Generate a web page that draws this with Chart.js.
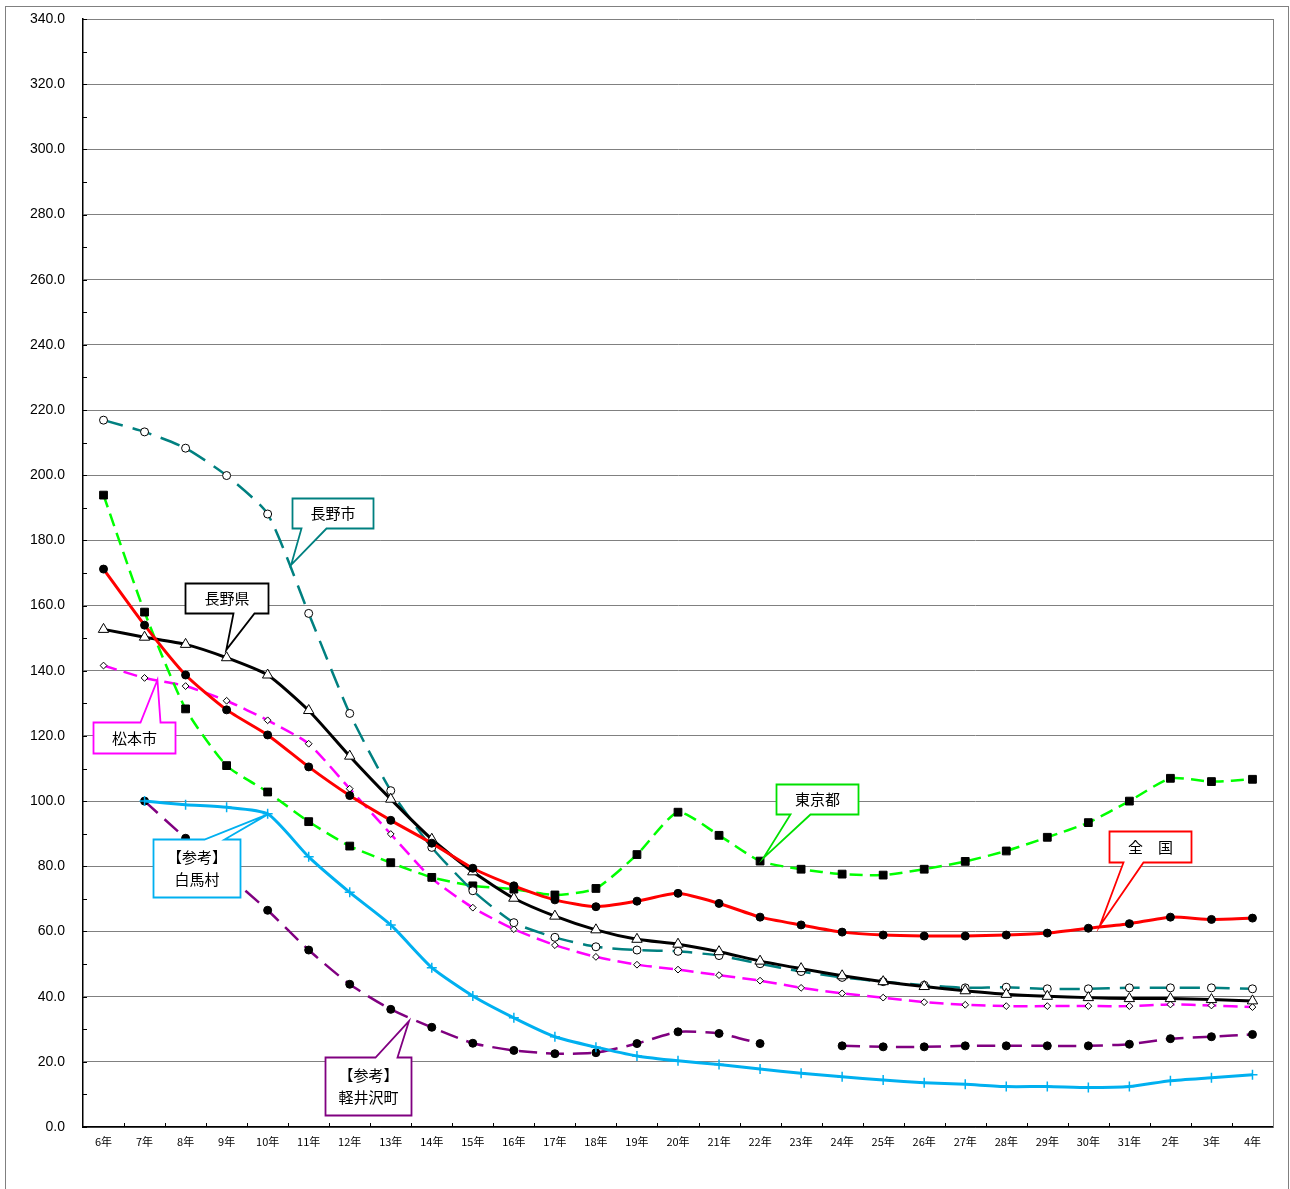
<!DOCTYPE html>
<html>
<head>
<meta charset="utf-8">
<script src="https://cdn.jsdelivr.net/npm/chart.js@4"></script>
<style>
html,body{margin:0;padding:0;background:#fff;}
#wrap{position:relative;width:1290px;height:1189px;}
</style>
</head>
<body>
<div id="wrap"><canvas id="c"></canvas></div>
<script>
const categories = ['6年','7年','8年','9年','10年','11年','12年','13年','14年','15年','16年','17年','18年','19年','20年','21年','22年','23年','24年','25年','26年','27年','28年','29年','30年','31年','2年','3年','4年'];

const zenkoku   = [171.2,154.0,138.7,128.0,120.3,110.5,101.7,94.1,87.1,79.4,74.0,69.7,67.6,69.3,71.7,68.6,64.4,62.0,59.8,58.9,58.6,58.6,58.9,59.5,61.0,62.4,64.4,63.7,64.1];
const tokyo     = [193.9,158.0,128.3,110.9,102.8,93.7,86.2,81.1,76.6,74.0,73.0,71.2,73.2,83.6,96.6,89.5,81.6,79.1,77.6,77.3,79.1,81.5,84.7,88.9,93.4,100.0,107.0,106.0,106.7];
const naganoken = [152.7,150.3,148.1,144.0,138.7,127.8,113.8,100.6,88.3,78.3,70.2,64.7,60.5,57.6,56.1,53.8,50.9,48.6,46.4,44.6,43.1,41.8,40.7,40.1,39.7,39.4,39.4,39.1,38.7];
const naganoshi = [216.9,213.3,208.3,199.9,188.1,157.6,126.9,103.2,85.8,72.5,62.7,58.2,55.3,54.3,53.9,52.6,50.1,47.7,45.9,44.6,43.5,42.7,42.9,42.4,42.4,42.7,42.7,42.7,42.4];
const matsumoto = [141.6,137.8,135.3,130.8,124.8,117.6,103.8,89.9,76.3,67.3,60.7,55.8,52.2,49.8,48.3,46.6,44.9,42.7,41.0,39.7,38.3,37.5,37.1,37.1,37.1,37.1,37.6,37.3,36.8];
const hakuba    = [null,100.0,98.9,98.1,96.1,82.9,72.0,62.0,48.9,40.2,33.5,27.7,24.5,21.8,20.3,19.2,17.8,16.5,15.4,14.4,13.6,13.1,12.4,12.4,12.1,12.4,14.2,15.1,16.0];
const karuizawa = [null,100.0,88.6,77.5,66.5,54.3,43.8,36.1,30.6,25.7,23.5,22.5,22.8,25.6,29.2,28.7,25.6,null,24.9,24.6,24.6,24.9,24.9,24.9,24.9,25.4,27.1,27.7,28.4];

const yMin = 0, yMax = 340, yStep = 20, yMinorStep = 10;

// Callout annotations: box anchored at (category index, value), size in px, pointer tip in data coords
const callouts = [
  {lines:['長野市'], color:'#008080', bi:4.598, bv:193.0, w:81, h:30, side:'bottom', b1:9,  b2:34, ti:4.573, tv:172.5},
  {lines:['長野県'], color:'#000000', bi:1.995, bv:166.9, w:83, h:30, side:'bottom', b1:48, b2:69, ti:2.992, tv:146.4},
  {lines:['松本市'], color:'#FF00FF', bi:-0.268, bv:124.3, w:82, h:31, side:'top', b1:47, b2:67, ti:1.314, tv:137.2},
  {lines:['【参考】','白馬村'], color:'#00B0F0', bi:1.216, bv:88.4, w:87, h:58, side:'top', b1:51, b2:71, ti:4.014, tv:96.0},
  {lines:['【参考】','軽井沢町'], color:'#800080', bi:5.40, bv:21.5, w:86, h:58, side:'top', b1:50, b2:72, ti:7.444, tv:32.5},
  {lines:['東京都'], color:'#00E000', bi:16.396, bv:105.3, w:82, h:30, side:'bottom', b1:14, b2:34, ti:16.08, tv:82.5},
  {lines:['全　国'], color:'#FF0000', bi:24.497, bv:90.8, w:82, h:31, side:'bottom', b1:14, b2:34, ti:24.278, tv:61.7}
];

const decorPlugin = {
  id:'decor',
  beforeDraw(chart){
    const ctx = chart.ctx;
    ctx.save();
    ctx.strokeStyle = '#808080';
    ctx.lineWidth = 1;
    ctx.strokeRect(5.5, 6.5, 1283, 1200);
    ctx.restore();
  },
  beforeDatasetsDraw(chart){
    const ctx = chart.ctx, a = chart.chartArea;
    const ys = chart.scales.y, xs = chart.scales.x;
    ctx.save();
    ctx.strokeStyle = '#808080';
    ctx.lineWidth = 1;
    ctx.beginPath();
    ctx.moveTo(Math.round(a.right)+0.5, a.top);
    ctx.lineTo(Math.round(a.right)+0.5, a.bottom);
    ctx.stroke();
    ctx.strokeStyle = '#000';
    ctx.lineWidth = 1;
    ctx.beginPath();
    for (let v = yMin; v <= yMax; v += yMinorStep) {
      const py = Math.round(ys.getPixelForValue(v)) + 0.5;
      ctx.moveTo(a.left, py); ctx.lineTo(a.left + 4, py);
    }
    for (let i = 1; i < categories.length; i++) {
      const px = Math.round(xs.getPixelForValue(i - 0.5)) + 0.5;
      ctx.moveTo(px, a.bottom); ctx.lineTo(px, a.bottom - 4);
    }
    ctx.stroke();
    ctx.restore();
  },
  afterDatasetsDraw(chart){
    const ctx = chart.ctx;
    const xs = chart.scales.x, ys = chart.scales.y;
    ctx.save();
    callouts.forEach(c => {
      const L = Math.round(xs.getPixelForValue(c.bi)) + 0.5;
      const T = Math.round(ys.getPixelForValue(c.bv)) + 0.5;
      const R = L + c.w, B = T + c.h;
      const tx = xs.getPixelForValue(c.ti), ty = ys.getPixelForValue(c.tv);
      ctx.beginPath();
      if (c.side === 'bottom') {
        ctx.moveTo(L, T); ctx.lineTo(R, T); ctx.lineTo(R, B);
        ctx.lineTo(L + c.b2, B); ctx.lineTo(tx, ty); ctx.lineTo(L + c.b1, B);
        ctx.lineTo(L, B); ctx.closePath();
      } else {
        ctx.moveTo(L, T); ctx.lineTo(L + c.b1, T); ctx.lineTo(tx, ty);
        ctx.lineTo(L + c.b2, T); ctx.lineTo(R, T); ctx.lineTo(R, B);
        ctx.lineTo(L, B); ctx.closePath();
      }
      ctx.fillStyle = '#fff';
      ctx.fill();
      ctx.strokeStyle = c.color;
      ctx.lineWidth = 1.8;
      ctx.lineJoin = 'miter';
      ctx.stroke();
      ctx.fillStyle = '#000';
      ctx.font = '15px "Noto Sans CJK JP"';
      ctx.textAlign = 'center';
      ctx.textBaseline = 'middle';
      const cx = (L + R) / 2, cy = (T + B) / 2;
      const lh = 22;
      c.lines.forEach((s, k) => {
        ctx.fillText(s, cx, cy + (k - (c.lines.length - 1) / 2) * lh);
      });
    });
    ctx.restore();
  }
};

function ds(label, data, color, width, dash, style, radius, bg, border) {
  return {
    label, data, borderColor: color, borderWidth: width, borderDash: dash,
    pointStyle: style, pointRadius: radius, pointHoverRadius: radius,
    pointBackgroundColor: bg, pointBorderColor: border, pointBorderWidth: 1,
    tension: 0.2, spanGaps: false, fill: false
  };
}

new Chart(document.getElementById('c'), {
  type: 'line',
  data: {
    labels: categories,
    datasets: [
      ds('全国', zenkoku, '#FF0000', 3, [], 'circle', 4, '#000', '#000'),
      ds('長野県', naganoken, '#000000', 3, [], 'triangle', 6, '#fff', '#000'),
      ds('長野市', naganoshi, '#008080', 2.5, [20, 10], 'circle', 4, '#fff', '#000'),
      ds('東京都', tokyo, '#00FF00', 2.5, [13, 7], 'rect', 5.5, '#000', '#000'),
      ds('松本市', matsumoto, '#FF00FF', 2.5, [14, 7], 'rectRot', 3.4, '#fff', '#000'),
      Object.assign(ds('【参考】白馬村', hakuba, '#00B0F0', 3, [], 'cross', 5, '#00B0F0', '#00B0F0'), {pointBorderWidth: 1.5}),
      ds('【参考】軽井沢町', karuizawa, '#800080', 2.5, [18, 9], 'circle', 4, '#000', '#000')
    ]
  },
  options: {
    responsive: true,
    maintainAspectRatio: false,
    animation: false,
    events: [],
    layout: { padding: { top: 19, right: 17, left: 0, bottom: 0 } },
    plugins: { legend: { display: false }, title: { display: false }, tooltip: { enabled: false } },
    scales: {
      x: {
        type: 'category',
        offset: true,
        grid: { display: false, drawTicks: false },
        border: { display: true, color: '#000', width: 1.5 },
        ticks: { color: '#000', font: { family: '"Noto Sans CJK JP"', size: 11 }, padding: 8, maxRotation: 0, autoSkip: false },
        afterFit(s) { s.height = 62; s.paddingLeft = 0; s.paddingRight = 0; }
      },
      y: {
        min: yMin, max: yMax,
        grid: { color: '#808080', lineWidth: 1, drawTicks: false },
        border: { display: true, color: '#000', width: 1.5 },
        ticks: { stepSize: yStep, color: '#000', font: { family: '"Liberation Sans", Arial', size: 14 }, padding: 18,
                 callback: v => Number(v).toFixed(1) },
        afterFit(s) { s.width = 83; s.paddingTop = 0; s.paddingBottom = 0; }
      }
    }
  },
  plugins: [decorPlugin]
});
</script>
</body>
</html>
